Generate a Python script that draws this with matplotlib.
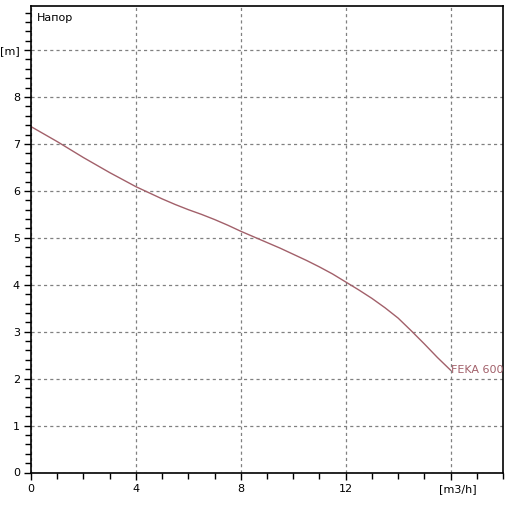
import matplotlib
matplotlib.use("Agg")
import matplotlib.pyplot as plt
import matplotlib.transforms as mtransforms
from matplotlib.ticker import MultipleLocator, FixedLocator

flow = [0, 0.5, 1, 1.5, 2, 2.5, 3, 3.5, 4, 4.5, 5, 5.5, 6, 6.5, 7, 7.5, 8,
        8.5, 9, 9.5, 10, 10.5, 11, 11.5, 12, 12.5, 13, 13.5, 14, 14.5, 15, 15.5, 16]
head = [7.37, 7.21, 7.05, 6.88, 6.71, 6.55, 6.39, 6.24, 6.09, 5.96, 5.83, 5.71, 5.6,
        5.5, 5.39, 5.27, 5.14, 5.02, 4.9, 4.78, 4.65, 4.52, 4.38, 4.23, 4.06, 3.89,
        3.71, 3.51, 3.29, 3.02, 2.74, 2.45, 2.18]
series_name = "FEKA 600"
xticks = [0, 4, 8, 12, 16]
xticklabels = ["0", "4", "8", "12", "[m3/h]"]
yticks = [0, 1, 2, 3, 4, 5, 6, 7, 8, 9]
yticklabels = ["0", "1", "2", "3", "4", "5", "6", "7", "8", "[m]"]
title = "Напор"

plt.rcParams['font.family'] = ['DejaVu Sans']
fig = plt.figure(figsize=(5.08, 5.08), dpi=100)
ax = fig.add_axes([31/508, 1-472.5/508, 472/508, 467/508])

curve_color = '#a2606a'
ax.plot(flow, head, color=curve_color, lw=1.0)
ax.text(flow[-1] + 0.02, head[-1], series_name, color=curve_color, fontsize=8,
        ha='left', va='center')

ax.set_xlim(0, 18)
ax.set_ylim(0, 9.95)
ax.xaxis.set_major_locator(FixedLocator(xticks))
ax.set_xticklabels(xticklabels)
ax.yaxis.set_major_locator(FixedLocator(yticks))
ax.set_yticklabels(yticklabels)
ax.xaxis.set_minor_locator(MultipleLocator(1))
ax.yaxis.set_minor_locator(MultipleLocator(0.2))
ax.tick_params(which='both', direction='out', labelsize=8, width=1, color='black')
ax.tick_params(which='major', length=5, pad=3)
ax.tick_params(which='minor', length=4)
ax.grid(True, which='major', color='#808080', linestyle=(0, (2.5, 2.5)), linewidth=0.9)
for s in ax.spines.values():
    s.set_linewidth(1.2)
    s.set_color('black')

lbl = ax.get_xticklabels()[-1]
lbl.set_transform(lbl.get_transform() + mtransforms.ScaledTranslation(7/100, 0, fig.dpi_scale_trans))

ax.text(0.012, 0.985, title, transform=ax.transAxes, fontsize=8, ha='left', va='top')

fig.savefig('out.png', dpi=100)
